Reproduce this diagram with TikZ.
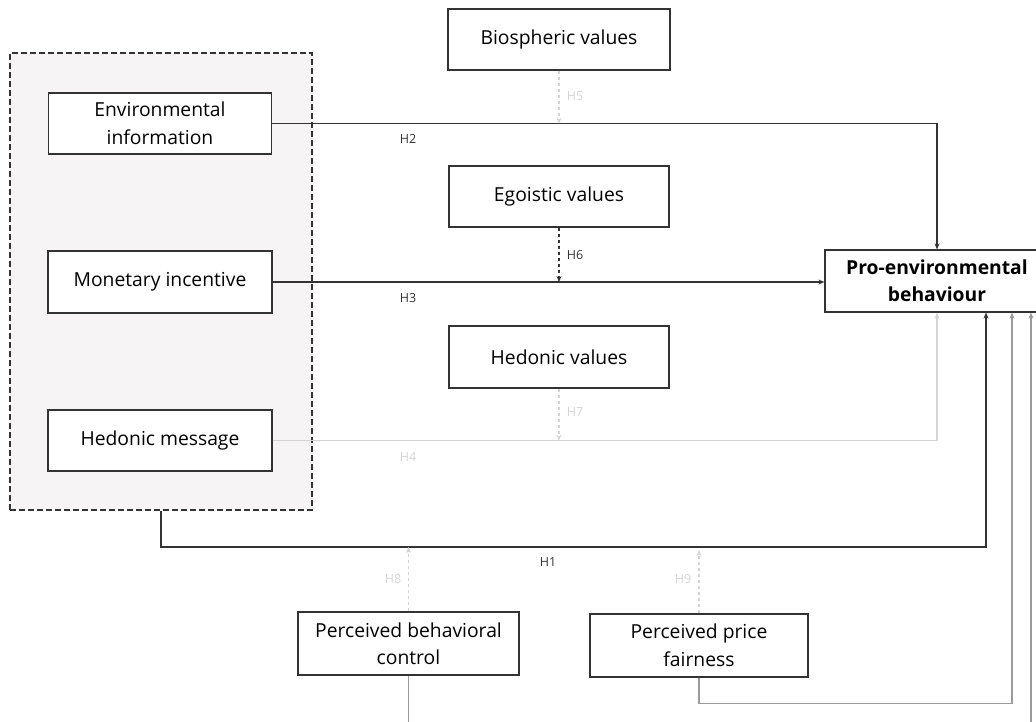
\documentclass[tikz,border=0pt]{standalone}
\usepackage{fontspec}
\setmainfont{Open Sans}
\usepackage{xcolor}
\usetikzlibrary{arrows.meta}
\definecolor{lineDark}{RGB}{51,51,51}
\definecolor{lineLight}{RGB}{212,212,212}
\definecolor{lineMid}{RGB}{155,155,155}
\definecolor{groupFill}{RGB}{246,244,244}
\tikzstyle{box}=[draw=lineDark, line width=1.2pt, fill=white, align=center, font=\fontsize{19.3}{27.5}\selectfont]
\tikzstyle{hyp}=[font=\fontsize{12.5}{14}\selectfont, text=lineDark]
\tikzstyle{link}=[line width=1.3pt, -{Stealth[length=6pt,width=5pt]}]

\begin{document}
\begin{tikzpicture}[x=1pt,y=-1pt]
  \useasboundingbox (0,0) rectangle (1036,721);
  \clip (0,0) rectangle (1036,721);
  %% Message group
  \node[draw=lineDark, dash pattern=on 6pt off 3pt, line width=1.1pt, fill=groupFill, minimum width=302pt, minimum height=457pt] (grp) at (161,281.5) {};

  %% Boxes
  \node[box, minimum width=222pt, minimum height=61pt] (bio) at (559,39.5) {Biospheric values};
  \node[box, minimum width=223pt, minimum height=61pt] (env) at (160,123.5) {Environmental\\information};
  \node[box, minimum width=220pt, minimum height=61pt] (ego) at (559,196.5) {Egoistic values};
  \node[box, minimum width=224pt, minimum height=62pt] (mon) at (160,282) {Monetary incentive};
  \node[box, minimum width=224pt, minimum height=62pt] (peb) at (937,281) {\textbf{Pro-environmental}\\\textbf{behaviour}};
  \node[box, minimum width=220pt, minimum height=62pt] (hedv) at (559,357) {Hedonic values};
  \node[box, minimum width=224pt, minimum height=61pt] (hedm) at (160,440.5) {Hedonic message};
  \node[box, minimum width=221pt, minimum height=63pt] (pbc) at (408.5,643.5) {Perceived behavioral\\control};
  \node[box, minimum width=218pt, minimum height=63pt] (ppf) at (699,645.5) {Perceived price\\fairness};

  \coordinate (h1bend) at (986,547);

  %% Main effects
  \draw[link, color=lineDark] (env.east) -| (peb.north);
  \draw[link, color=lineDark] (mon.east) -- (mon.east -| peb.west);
  \draw[link, color=lineLight] (hedm.east) -| (peb.south);
  \draw[link, color=lineDark] (grp.south) |- (h1bend) -- ([xshift=49pt]peb.south);

  %% Moderators
  \draw[link, dashed, color=lineLight] (bio.south) -- (bio.south |- env.east);
  \draw[link, dashed, color=lineDark] (ego.south) -- (ego.south |- mon.east);
  \draw[link, dashed, color=lineLight] (hedv.south) -- (hedv.south |- hedm.east);
  \draw[link, dashed, color=lineLight] (pbc.north) -- (pbc.north |- h1bend);
  \draw[link, dashed, color=lineLight] (ppf.north) -- ([yshift=-3pt]ppf.north |- h1bend);

  %% Direct effects of controls
  \draw[link, color=lineMid] (ppf.south) -- ++(0,26) -| ([xshift=75pt]peb.south);
  \draw[link, color=lineMid] (pbc.south) -- ++(0,60) -| ([xshift=94pt]peb.south);

  %% Hypothesis labels
  \node[hyp] (lH1) at (548,562) {H1};
  \node[hyp] (lH2) at (408,139) {H2};
  \node[hyp] (lH3) at (408,298) {H3};
  \node[hyp, text=lineLight] (lH4) at (408,457) {H4};
  \node[hyp, text=lineLight] (lH5) at (575,96) {H5};
  \node[hyp] (lH6) at (575,255) {H6};
  \node[hyp, text=lineLight] (lH7) at (575,412) {H7};
  \node[hyp, text=lineLight] (lH8) at (393,579) {H8};
  \node[hyp, text=lineLight] (lH9) at (683,579) {H9};
\end{tikzpicture}
\end{document}
